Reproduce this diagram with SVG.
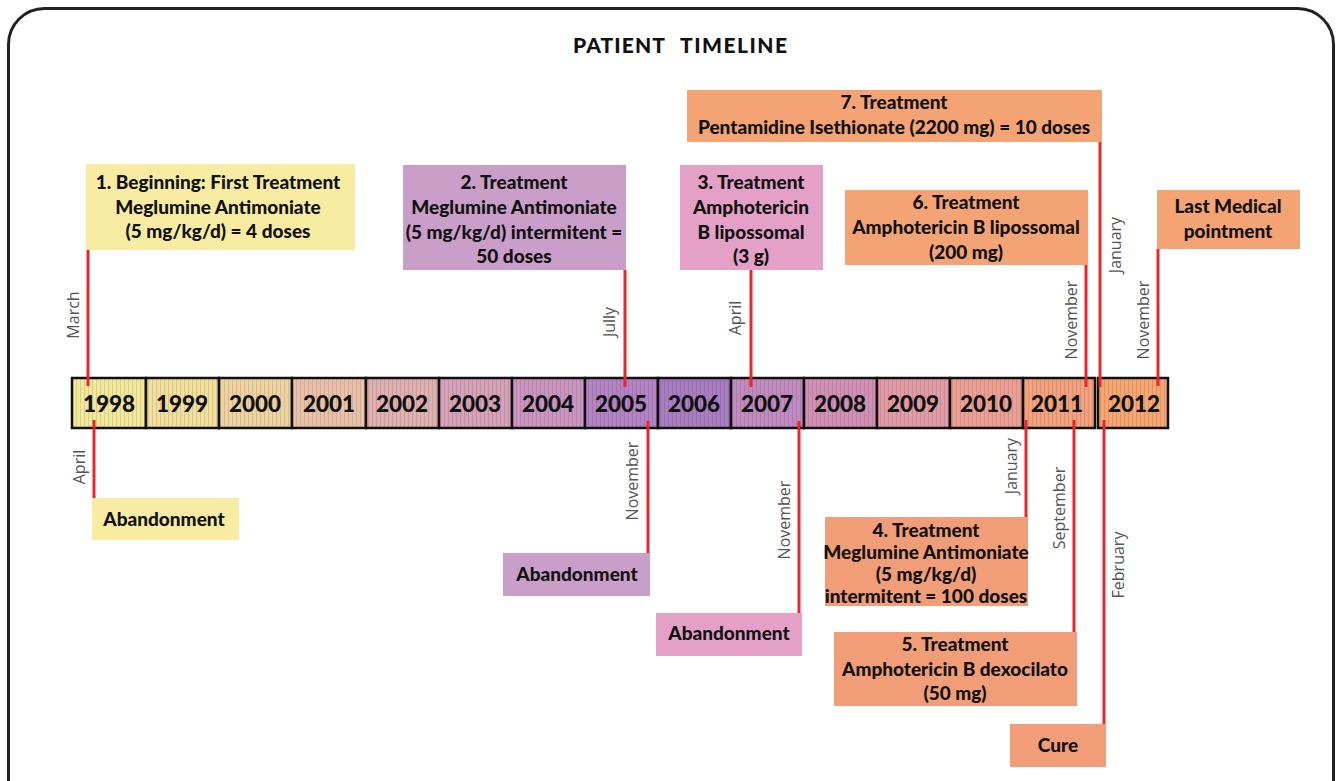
<svg xmlns="http://www.w3.org/2000/svg" width="1339" height="781" viewBox="0 0 1339 781">
<defs>
<pattern id="stripes" width="4" height="10" patternUnits="userSpaceOnUse">
<rect x="0" y="0" width="1" height="10" fill="#000" fill-opacity="0.10"/>
</pattern>
<style>
.box text{font-family:Lato,"Open Sans","Liberation Sans",sans-serif;font-weight:900;font-size:19px;fill:#111;text-anchor:middle}
.yr{font-family:Lato,"Open Sans","Liberation Sans",sans-serif;font-weight:900;font-size:22.5px;fill:#111;text-anchor:middle}
.cell{stroke:#111;stroke-width:2.5}
.mon{font-family:"Open Sans","Liberation Sans",sans-serif;font-weight:400;font-size:16px;fill:#555;text-anchor:middle}
.red{stroke:#e8262b;stroke-width:3;fill:none}
.yel{fill:#f8eca2}
.pur{fill:#c99ec9}
.pnk{fill:#e4a0c6}
.org{fill:#f4a474}
.org2{fill:#f09d78}
</style>
</defs>
<rect x="8.5" y="8.5" width="1325" height="820" rx="36" ry="36" fill="#fff" stroke="#222" stroke-width="3"/>
<g font-family="Lato,'Open Sans','Liberation Sans',sans-serif" font-weight="900" font-size="21" fill="#111">
<text x="573" y="53" textLength="92" lengthAdjust="spacing">PATIENT</text>
<text x="680" y="53" textLength="107" lengthAdjust="spacing">TIMELINE</text>
</g>

<g id="timeline">
<rect class="cell" x="72" y="378" width="74" height="50" fill="#f3e79b"/>
<rect class="cell" x="146" y="378" width="73" height="50" fill="#f2df9d"/>
<rect class="cell" x="219" y="378" width="73" height="50" fill="#eed2a2"/>
<rect class="cell" x="292" y="378" width="74" height="50" fill="#e8c1a8"/>
<rect class="cell" x="366" y="378" width="73" height="50" fill="#dfb0b0"/>
<rect class="cell" x="439" y="378" width="73" height="50" fill="#d5a2b8"/>
<rect class="cell" x="512" y="378" width="73" height="50" fill="#c995bf"/>
<rect class="cell" x="585" y="378" width="73" height="50" fill="#b383c3"/>
<rect class="cell" x="658" y="378" width="73" height="50" fill="#a97dc1"/>
<rect class="cell" x="731" y="378" width="73" height="50" fill="#c08bbe"/>
<rect class="cell" x="804" y="378" width="73" height="50" fill="#cf90b3"/>
<rect class="cell" x="877" y="378" width="73" height="50" fill="#e19ba7"/>
<rect class="cell" x="950" y="378" width="73" height="50" fill="#ec9f95"/>
<rect class="cell" x="1023" y="378" width="72" height="50" fill="#f3a27f"/>
<rect class="cell" x="1098" y="378" width="70" height="50" fill="#f6a672"/>
<rect x="72" y="378" width="1023" height="50" fill="url(#stripes)"/>
<rect x="1098" y="378" width="70" height="50" fill="url(#stripes)"/>
<text class="yr" x="109" y="412">1998</text>
<text class="yr" x="182" y="412">1999</text>
<text class="yr" x="255" y="412">2000</text>
<text class="yr" x="329" y="412">2001</text>
<text class="yr" x="402" y="412">2002</text>
<text class="yr" x="475" y="412">2003</text>
<text class="yr" x="548" y="412">2004</text>
<text class="yr" x="621" y="412">2005</text>
<text class="yr" x="694" y="412">2006</text>
<text class="yr" x="767" y="412">2007</text>
<text class="yr" x="840" y="412">2008</text>
<text class="yr" x="913" y="412">2009</text>
<text class="yr" x="986" y="412">2010</text>
<text class="yr" x="1057" y="412">2011</text>
<text class="yr" x="1134" y="412">2012</text>
</g>

<g id="connectors">
<line class="red" x1="88" y1="250" x2="88" y2="386"/>
<line class="red" x1="625" y1="270" x2="625" y2="387"/>
<line class="red" x1="751" y1="270" x2="751" y2="387"/>
<line class="red" x1="1086" y1="265" x2="1086" y2="387"/>
<line class="red" x1="1100" y1="142" x2="1100" y2="387"/>
<line class="red" x1="1158" y1="249" x2="1158" y2="386"/>
<line class="red" x1="94" y1="420" x2="94" y2="498"/>
<line class="red" x1="648" y1="421" x2="648" y2="553"/>
<line class="red" x1="799" y1="421" x2="799" y2="613"/>
<line class="red" x1="1026" y1="420" x2="1026" y2="517"/>
<line class="red" x1="1074" y1="420" x2="1074" y2="632"/>
<line class="red" x1="1104" y1="420" x2="1104" y2="724"/>
<text class="mon" transform="translate(79 315) rotate(-90)">March</text>
<text class="mon" transform="translate(615 322) rotate(-90)">Jully</text>
<text class="mon" transform="translate(741 318) rotate(-90)">April</text>
<text class="mon" transform="translate(1077 320) rotate(-90)">November</text>
<text class="mon" transform="translate(1121 245) rotate(-90)">January</text>
<text class="mon" transform="translate(1149 320) rotate(-90)">November</text>
<text class="mon" transform="translate(85 467) rotate(-90)">April</text>
<text class="mon" transform="translate(638 481) rotate(-90)">November</text>
<text class="mon" transform="translate(790 520) rotate(-90)">November</text>
<text class="mon" transform="translate(1017 466) rotate(-90)">January</text>
<text class="mon" transform="translate(1065 508) rotate(-90)">September</text>
<text class="mon" transform="translate(1124 565) rotate(-90)">February</text>
</g>

<g id="n1" class="box">
<rect class="yel" x="86" y="164" width="269" height="86"/>
<text x="218" y="189">1. Beginning: First Treatment</text>
<text x="218" y="214">Meglumine Antimoniate</text>
<text x="218" y="238">(5 mg/kg/d) = 4 doses</text>
</g>
<g id="n2" class="box">
<rect class="pur" x="403" y="165" width="223" height="105"/>
<text x="514" y="189">2. Treatment</text>
<text x="514" y="214">Meglumine Antimoniate</text>
<text x="514" y="239">(5 mg/kg/d) intermitent =</text>
<text x="514" y="263">50 doses</text>
</g>
<g id="n3" class="box">
<rect class="pnk" x="680" y="165" width="143" height="105"/>
<text x="751" y="189">3. Treatment</text>
<text x="751" y="214">Amphotericin</text>
<text x="751" y="239">B lipossomal</text>
<text x="751" y="263">(3 g)</text>
</g>
<g id="n7" class="box">
<rect class="org" x="687" y="90" width="415" height="52"/>
<text x="894" y="109">7. Treatment</text>
<text x="894" y="134">Pentamidine Isethionate (2200 mg) = 10 doses</text>
</g>
<g id="n6" class="box">
<rect class="org" x="845" y="190" width="243" height="75"/>
<text x="966" y="209">6. Treatment</text>
<text x="966" y="234">Amphotericin B lipossomal</text>
<text x="966" y="259">(200 mg)</text>
</g>
<g id="nlast" class="box">
<rect class="org" x="1157" y="190" width="143" height="59"/>
<text x="1228" y="213">Last Medical</text>
<text x="1228" y="238">pointment</text>
</g>
<g id="ab1" class="box">
<rect class="yel" x="92" y="498" width="147" height="42"/>
<text x="164" y="526">Abandonment</text>
</g>
<g id="ab2" class="box">
<rect class="pur" x="503" y="553" width="147" height="43"/>
<text x="577" y="581">Abandonment</text>
</g>
<g id="ab3" class="box">
<rect class="pnk" x="656" y="613" width="146" height="43"/>
<text x="729" y="640">Abandonment</text>
</g>
<g id="n4" class="box">
<rect class="org2" x="825" y="517" width="203" height="89"/>
<text x="926" y="537">4. Treatment</text>
<text x="926" y="559">Meglumine Antimoniate</text>
<text x="926" y="581">(5 mg/kg/d)</text>
<text x="926" y="603">intermitent = 100 doses</text>
</g>
<g id="n5" class="box">
<rect class="org2" x="834" y="632" width="243" height="74"/>
<text x="955" y="651">5. Treatment</text>
<text x="955" y="676">Amphotericin B dexocilato</text>
<text x="955" y="700">(50 mg)</text>
</g>
<g id="cure" class="box">
<rect class="org2" x="1010" y="724" width="96" height="43"/>
<text x="1058" y="752">Cure</text>
</g>
</svg>
